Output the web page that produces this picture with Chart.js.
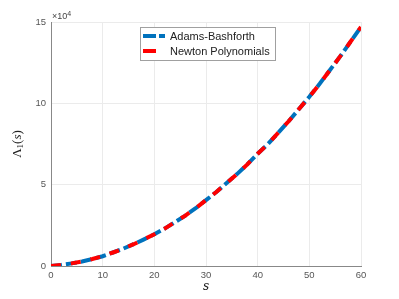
<!DOCTYPE html>
<html>
<head>
<meta charset="utf-8">
<script src="https://cdn.jsdelivr.net/npm/chart.js@4"></script>
<style>
  html, body { margin: 0; padding: 0; background: #fff; }
  #wrap { width: 399px; height: 299px; }
</style>
</head>
<body>
<div id="wrap"><canvas id="chart" width="399" height="299"></canvas></div>
<script>
// values
const sValues = [0, 2, 4, 6, 8, 10, 12, 14, 16, 18, 20, 22, 24, 26, 28, 30,
    32, 34, 36, 38, 40, 42, 44, 46, 48, 50, 52, 54, 56, 58, 60];
const adamsBashforth = [0, 650, 1600, 2800, 4300, 6000, 8300, 10700, 13400, 16400,
    19500, 23000, 27000, 31000, 35500, 40500, 45500, 51000, 56500, 62500, 69000,
    75000, 82000, 89000, 96500, 104000, 112000, 120500, 129000, 138000, 147000];
const newtonPolynomials = [0, 650, 1600, 2800, 4300, 6000, 8300, 10700, 13400, 16400,
    19500, 23000, 27000, 31000, 35500, 40500, 45500, 51000, 56500, 62500, 69000,
    75000, 82000, 89000, 96500, 104000, 112000, 120500, 129000, 138000, 147000];
const xTicks = [0, 10, 20, 30, 40, 50, 60];
const yTicks = [0, 50000, 100000, 150000];

const toPoints = (ys) => sValues.map((s, i) => ({ x: s, y: ys[i] }));

const BLUE = "#0072BD";
const RED = "#FF0000";

// legend box inside the axes, MATLAB style
const insideLegend = {
    id: "insideLegend",
    afterDraw(chart) {
        const ctx = chart.ctx;
        const x0 = 140, y0 = 27, w = 135, h = 33;
        ctx.save();
        ctx.fillStyle = "#fff";
        ctx.fillRect(x0, y0, w, h);
        ctx.strokeStyle = "#a0a0a0";
        ctx.lineWidth = 1;
        ctx.strokeRect(x0 + 0.5, y0 + 0.5, w, h);
        const entries = [
            { label: "Adams-Bashforth", ds: chart.data.datasets[1], y: y0 + 9 },
            { label: "Newton Polynomials", ds: chart.data.datasets[0], y: y0 + 24 }
        ];
        entries.forEach((e) => {
            ctx.strokeStyle = e.ds.borderColor;
            ctx.lineWidth = 4;
            ctx.setLineDash(e.ds.legendDash);
            ctx.beginPath();
            ctx.moveTo(x0 + 3, e.y);
            ctx.lineTo(x0 + 25, e.y);
            ctx.stroke();
            ctx.setLineDash([]);
            ctx.fillStyle = "#222";
            ctx.font = "11px 'Liberation Sans', Arial, sans-serif";
            ctx.textBaseline = "middle";
            ctx.textAlign = "left";
            ctx.fillText(e.label, x0 + 30, e.y + 1);
        });
        ctx.restore();
    }
};

// axis titles and the exponent note
const axisTexts = {
    id: "axisTexts",
    afterDraw(chart) {
        const ctx = chart.ctx;
        const area = chart.chartArea;
        ctx.save();
        ctx.fillStyle = "#222";
        ctx.textBaseline = "middle";

        // x title
        ctx.font = "italic 12px 'DejaVu Serif', 'Liberation Serif', serif";
        ctx.textAlign = "center";
        ctx.fillText("s", (area.left + area.right) / 2, 287);

        // y title: Λ1(s)
        ctx.translate(18, (area.top + area.bottom) / 2);
        ctx.rotate(-Math.PI / 2);
        const parts = [
            { t: "Λ", f: "13px 'Liberation Serif', serif", dy: 0 },
            { t: "1", f: "9px 'Liberation Serif', serif", dy: 3 },
            { t: "(", f: "13px 'Liberation Serif', serif", dy: 0 },
            { t: "s", f: "italic 13px 'Liberation Serif', serif", dy: 0 },
            { t: ")", f: "13px 'Liberation Serif', serif", dy: 0 }
        ];
        let total = 0;
        parts.forEach((p) => { ctx.font = p.f; total += ctx.measureText(p.t).width; });
        let cx = -total / 2;
        ctx.textAlign = "left";
        parts.forEach((p) => {
            ctx.font = p.f;
            ctx.fillText(p.t, cx, p.dy);
            cx += ctx.measureText(p.t).width;
        });
        ctx.setTransform(1, 0, 0, 1, 0, 0);

        // ×10^4
        ctx.fillStyle = "#444";
        ctx.font = "9px 'Liberation Sans', Arial, sans-serif";
        ctx.textAlign = "left";
        ctx.fillText("×10", area.left + 1, area.top - 5);
        const wx = ctx.measureText("×10").width;
        ctx.font = "7px 'Liberation Sans', Arial, sans-serif";
        ctx.fillText("4", area.left + 1 + wx, area.top - 8);
        ctx.restore();
    }
};

new Chart(document.getElementById("chart"), {
    type: "line",
    data: {
        datasets: [
            {
                label: "Newton Polynomials",
                data: toPoints(newtonPolynomials),
                borderColor: RED,
                borderWidth: 4,
                borderDash: [10, 10],
                legendDash: [13, 20],
                pointRadius: 0,
                tension: 0,
                fill: false,
                order: 0
            },
            {
                label: "Adams-Bashforth",
                data: toPoints(adamsBashforth),
                borderColor: BLUE,
                borderWidth: 4,
                borderDash: [11, 4],
                legendDash: [13, 3],
                pointRadius: 0,
                tension: 0,
                fill: false,
                order: 1
            }
        ]
    },
    options: {
        responsive: false,
        animation: false,
        layout: { padding: { top: 22, right: 38, left: 0, bottom: 0 } },
        plugins: {
            legend: { display: false },
            tooltip: { enabled: false }
        },
        scales: {
            x: {
                type: "linear",
                min: 0,
                max: 60,
                afterBuildTicks: (scale) => { scale.ticks = xTicks.map((v) => ({ value: v })); },
                afterFit: (scale) => { scale.height = 33; },
                ticks: {
                    color: "#555",
                    font: { size: 9.5, family: "'Liberation Sans', Arial, sans-serif" },
                    padding: 4,
                    maxRotation: 0
                },
                grid: { color: "#ebebeb", drawTicks: false },
                border: { display: true, color: "#888", width: 1 }
            },
            y: {
                min: 0,
                max: 150000,
                afterBuildTicks: (scale) => { scale.ticks = yTicks.map((v) => ({ value: v })); },
                afterFit: (scale) => { scale.width = 51; },
                ticks: {
                    color: "#555",
                    font: { size: 9.5, family: "'Liberation Sans', Arial, sans-serif" },
                    padding: 5,
                    callback: (v) => v / 10000
                },
                grid: { color: "#ebebeb", drawTicks: false },
                border: { display: true, color: "#888", width: 1 }
            }
        }
    },
    plugins: [insideLegend, axisTexts]
});
</script>
</body>
</html>
